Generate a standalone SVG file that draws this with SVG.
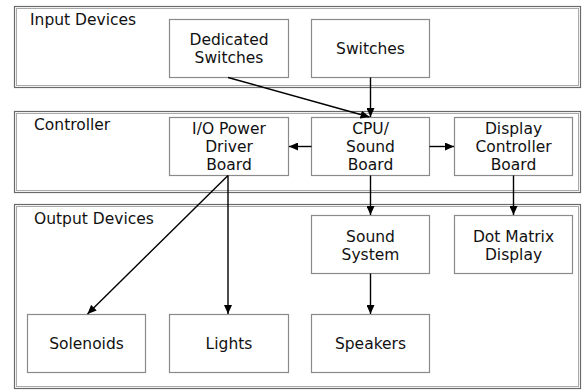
<svg xmlns="http://www.w3.org/2000/svg" width="582" height="391" viewBox="0 0 582 391">
<defs>
<marker id="ah" markerWidth="10" markerHeight="8" refX="9" refY="4" orient="auto" markerUnits="userSpaceOnUse">
<path d="M0,0 L9,4 L0,8 Z" fill="#000"/>
</marker>
</defs>
<style>
.fo{fill:#fff;stroke:#6a6a6a;stroke-width:1.2}
.fi{fill:none;stroke:#aaa;stroke-width:1}
.nb{fill:#fff;stroke:#8a8a8a;stroke-width:1.2}
text{font-family:"DejaVu Sans",Verdana,sans-serif;font-size:15.5px;fill:#111}
.c{text-anchor:middle}
.ln{stroke:#000;stroke-width:1.4;fill:none;marker-end:url(#ah)}
</style>
<rect width="582" height="391" fill="#fff"/>
<g id="input-devices">
<rect class="fo" x="14.5" y="6.5" width="566" height="81"/>
<rect class="fi" x="16.5" y="8.5" width="562" height="77"/>
<text x="30" y="25">Input Devices</text>
</g>
<g id="controller">
<rect class="fo" x="14.5" y="111.5" width="566" height="81"/>
<rect class="fi" x="16.5" y="113.5" width="562" height="77"/>
<text x="34" y="130">Controller</text>
</g>
<g id="output-devices">
<rect class="fo" x="14.5" y="204.5" width="566" height="184"/>
<rect class="fi" x="16.5" y="206.5" width="562" height="180"/>
<text x="34" y="224">Output Devices</text>
</g>
<g id="dedicated-switches">
<rect class="nb" x="169.5" y="19.5" width="119" height="58"/>
<text class="c" x="229" y="44.5">Dedicated</text>
<text class="c" x="229" y="62.5">Switches</text>
</g>
<g id="switches">
<rect class="nb" x="311.5" y="19.5" width="118" height="58"/>
<text class="c" x="370.5" y="54">Switches</text>
</g>
<g id="io-power-driver-board">
<rect class="nb" x="169.5" y="117.5" width="119" height="58"/>
<text class="c" x="229" y="134">I/O Power</text>
<text class="c" x="229" y="152">Driver</text>
<text class="c" x="229" y="170">Board</text>
</g>
<g id="cpu-sound-board">
<rect class="nb" x="311.5" y="117.5" width="118" height="58"/>
<text class="c" x="370.5" y="134">CPU/</text>
<text class="c" x="370.5" y="152">Sound</text>
<text class="c" x="370.5" y="170">Board</text>
</g>
<g id="display-controller-board">
<rect class="nb" x="454.5" y="117.5" width="118" height="58"/>
<text class="c" x="513.5" y="134">Display</text>
<text class="c" x="513.5" y="152">Controller</text>
<text class="c" x="513.5" y="170">Board</text>
</g>
<g id="sound-system">
<rect class="nb" x="311.5" y="215.5" width="118" height="58"/>
<text class="c" x="370.5" y="241.5">Sound</text>
<text class="c" x="370.5" y="259.5">System</text>
</g>
<g id="dot-matrix-display">
<rect class="nb" x="454.5" y="215.5" width="118" height="58"/>
<text class="c" x="513.5" y="241.5">Dot Matrix</text>
<text class="c" x="513.5" y="259.5">Display</text>
</g>
<g id="solenoids">
<rect class="nb" x="27.5" y="314.5" width="118" height="58"/>
<text class="c" x="86.5" y="349">Solenoids</text>
</g>
<g id="lights">
<rect class="nb" x="169.5" y="314.5" width="119" height="58"/>
<text class="c" x="229" y="349">Lights</text>
</g>
<g id="speakers">
<rect class="nb" x="311.5" y="314.5" width="118" height="58"/>
<text class="c" x="370.5" y="349">Speakers</text>
</g>
<g id="connectors">
<line class="ln" x1="228" y1="77.5" x2="369.5" y2="117"/>
<line class="ln" x1="370.5" y1="77.5" x2="370.5" y2="117"/>
<line class="ln" x1="311.5" y1="146.5" x2="289" y2="146.5"/>
<line class="ln" x1="429.5" y1="146.5" x2="454" y2="146.5"/>
<line class="ln" x1="228" y1="175.5" x2="87.5" y2="314"/>
<line class="ln" x1="228" y1="175.5" x2="228" y2="314"/>
<line class="ln" x1="370.5" y1="175.5" x2="370.5" y2="215"/>
<line class="ln" x1="513.5" y1="175.5" x2="513.5" y2="215"/>
<line class="ln" x1="370.5" y1="273.5" x2="370.5" y2="314"/>
</g>
</svg>
